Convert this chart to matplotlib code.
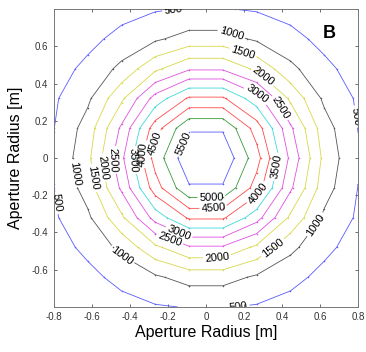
import numpy as np
import matplotlib
matplotlib.use("Agg")
import matplotlib.pyplot as plt

plt.rcParams['font.family'] = ['Liberation Sans', 'DejaVu Sans']

# grid used for the contour (10 columns, 11 rows)
x_grid = np.linspace(-0.8, 0.8, 10)
y_grid = np.linspace(-0.8, 0.8, 11)

# radial profile (radius [m] -> value)
profile_r = [0.0, 0.176, 0.237, 0.288, 0.340, 0.392, 0.434, 0.481, 0.534, 0.604, 0.673, 0.811, 1.2]
profile_z = [6300, 5500, 5000, 4500, 4000, 3500, 3000, 2500, 2000, 1500, 1000, 500, 0]

levels = [500, 1000, 1500, 2000, 2500, 3000, 3500, 4000, 4500, 5000, 5500]
level_colors = ['#5a5aff', '#555555', '#d8d84a', '#d8d84a', '#e050e0', '#e050e0',
                '#40d8d8', '#ff4a4a', '#ff4a4a', '#3a9a3a', '#5a5aff']

# where the inline labels sit
label_pos = [(-0.17, 0.78), (0.77, 0.22), (-0.78, -0.24), (0.17, -0.79),
             (0.13, 0.66), (-0.68, -0.08), (-0.44, -0.52), (0.58, -0.36),
             (0.19, 0.55), (-0.61, -0.11), (0.35, -0.48),
             (0.30, 0.44), (-0.54, -0.05), (0.06, -0.53),
             (0.39, 0.27), (-0.49, -0.01), (-0.20, -0.46),
             (0.27, 0.345), (-0.15, -0.42),
             (-0.38, -0.01), (0.39, -0.05),
             (-0.33, 0.02), (0.27, -0.19),
             (-0.27, 0.08), (0.04, -0.28),
             (0.03, -0.23),
             (-0.12, 0.08)]

X, Y = np.meshgrid(x_grid, y_grid)
R = np.sqrt(X**2 + Y**2)
Z = np.interp(R, profile_r, profile_z)

fig = plt.figure(figsize=(3.66, 3.52), dpi=100)
ax = fig.add_axes([0.1475, 0.128, 0.8305, 0.846])

cs = ax.contour(X, Y, Z, levels=levels, colors=level_colors, linewidths=0.6)

# dots on the contour vertices
for i, segs in enumerate(cs.allsegs):
    for seg in segs:
        ax.plot(seg[:, 0], seg[:, 1], '.', color=level_colors[i], ms=2.2, mew=0)

ax.clabel(cs, inline=True, fmt='%d', fontsize=8, colors='black',
          manual=label_pos, inline_spacing=2)

ax.text(0.65, 0.67, 'B', fontsize=13, fontweight='bold', ha='center', va='center')

ax.set_xlim(-0.8, 0.8)
ax.set_ylim(-0.8, 0.8)
ax.set_xticks([-0.8, -0.6, -0.4, -0.2, 0, 0.2, 0.4, 0.6, 0.8])
ax.set_xticklabels(['-0.8', '-0.6', '-0.4', '-0.2', '0', '0.2', '0.4', '0.6', '0.8'])
ax.set_yticks([-0.8, -0.6, -0.4, -0.2, 0, 0.2, 0.4, 0.6, 0.8])
ax.set_yticklabels(['', '-0.6', '-0.4', '-0.2', '0', '0.2', '0.4', '0.6', ''])
ax.tick_params(direction='in', length=2.5, width=0.5, labelsize=7, colors='#333333',
               top=True, right=True, pad=4)
for sp in ax.spines.values():
    sp.set_color('#777777')
    sp.set_linewidth(0.7)

ax.set_xlabel('Aperture Radius [m]', fontsize=11.5, labelpad=2)
ax.set_ylabel('Aperture Radius [m]', fontsize=11.5, labelpad=6)

fig.savefig('out.png', dpi=100)
